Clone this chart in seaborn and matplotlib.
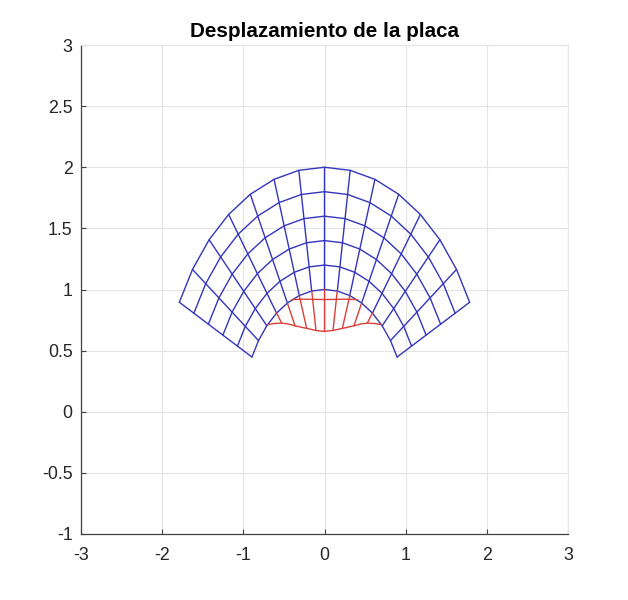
import numpy as np
import pandas as pd
import matplotlib
matplotlib.use("Agg")
import matplotlib.pyplot as plt
from matplotlib.ticker import StrMethodFormatter
import seaborn as sns

# Undeformed plate: polar mesh
radii = [1.0, 1.2, 1.4, 1.6, 1.8, 2.0]
spoke_angles_deg = [-63.4, -54.4, -45.3, -36.2, -27.2, -18.1, -9.1, 0.0,
                    9.1, 18.1, 27.2, 36.2, 45.3, 54.4, 63.4]

# Displaced region (red), data coordinates
red_curve_x = [-0.705, -0.62, -0.527, -0.44, -0.363, -0.29, -0.22, -0.105, 0.0,
               0.105, 0.22, 0.29, 0.363, 0.44, 0.527, 0.62, 0.705]
red_curve_y = [0.712, 0.722, 0.725, 0.717, 0.703, 0.692, 0.682, 0.665, 0.657,
               0.665, 0.682, 0.692, 0.703, 0.717, 0.725, 0.722, 0.712]
red_top_x = [-0.404, -0.269, -0.129, 0.0, 0.129, 0.269, 0.404]
red_top_y = [0.917, 0.921, 0.919, 0.918, 0.919, 0.921, 0.917]
red_spoke_top_x = [-0.590, -0.457, -0.311, -0.157, 0.0, 0.157, 0.311, 0.457, 0.590]
red_spoke_top_y = [0.807, 0.889, 0.950, 0.988, 1.0, 0.988, 0.950, 0.889, 0.807]
red_spoke_end_x = [-0.527, -0.363, -0.22, -0.105, 0.0, 0.105, 0.22, 0.363, 0.527]
red_spoke_end_y = [0.725, 0.703, 0.682, 0.665, 0.657, 0.665, 0.682, 0.703, 0.725]

x_ticks = [-3, -2, -1, 0, 1, 2, 3]
y_ticks = [-1, -0.5, 0, 0.5, 1, 1.5, 2, 2.5, 3]
title = "Desplazamiento de la placa"

BLUE = "#3535bb"
RED = "#d8403a"
GRID = "#e4e4e4"
INK = "#262626"

# Long-form tables: one "line" id per polyline
rows = []
line_id = 0
th = np.radians(spoke_angles_deg)
for r in radii:
    for t in th:
        rows.append((line_id, r * np.sin(t), r * np.cos(t)))
    line_id += 1
for t in th:
    for r in radii:
        rows.append((line_id, r * np.sin(t), r * np.cos(t)))
    line_id += 1
blue_df = pd.DataFrame(rows, columns=["line", "x", "y"])

rows = []
rows += [(0, a, b) for a, b in zip(red_curve_x, red_curve_y)]
rows += [(1, a, b) for a, b in zip(red_top_x, red_top_y)]
for i, (a, b, c, d) in enumerate(zip(red_spoke_top_x, red_spoke_top_y,
                                     red_spoke_end_x, red_spoke_end_y)):
    rows += [(2 + i, a, b), (2 + i, c, d)]
red_df = pd.DataFrame(rows, columns=["line", "x", "y"])

sns.set_theme(style="whitegrid")
plt.rcParams["font.family"] = ["Liberation Sans", "DejaVu Sans"]
plt.rcParams["axes.unicode_minus"] = False

W, H = 628, 600
fig = plt.figure(figsize=(W / 100, H / 100), dpi=100, facecolor="white")
ax = fig.add_axes([81 / W, 1 - 534 / H, (568 - 81) / W, (534 - 45) / H])

sns.lineplot(data=blue_df, x="x", y="y", units="line", estimator=None, sort=False,
             color=BLUE, lw=1.0, ax=ax, legend=False, zorder=3)
sns.lineplot(data=red_df, x="x", y="y", units="line", estimator=None, sort=False,
             color=RED, lw=1.0, ax=ax, legend=False, zorder=4)
for line in ax.lines:
    line.set_snap(False)

ax.set_xlim(-3, 3)
ax.set_ylim(-1, 3)
ax.set_xticks(x_ticks)
ax.set_yticks(y_ticks)
ax.xaxis.set_major_formatter(StrMethodFormatter("{x:g}"))
ax.yaxis.set_major_formatter(StrMethodFormatter("{x:g}"))
ax.set_xlabel("")
ax.set_ylabel("")
ax.set_axisbelow(True)
ax.grid(True, color=GRID, lw=0.8)
ax.set_facecolor("white")

for side in ("left", "bottom"):
    ax.spines[side].set_color("#404040")
    ax.spines[side].set_linewidth(0.9)
for side in ("top", "right"):
    ax.spines[side].set_color(GRID)
    ax.spines[side].set_linewidth(0.8)

ax.tick_params(axis="both", which="major", direction="in", length=3.5, width=0.8,
               color="#404040", labelcolor=INK, labelsize=12.8,
               left=True, bottom=True, top=False, right=False)
ax.tick_params(axis="x", pad=9)
ax.tick_params(axis="y", pad=6)

ax.set_title(title, fontsize=14.9, fontweight="bold", color="black", pad=6)

fig.savefig("out.png", dpi=100, facecolor="white")
